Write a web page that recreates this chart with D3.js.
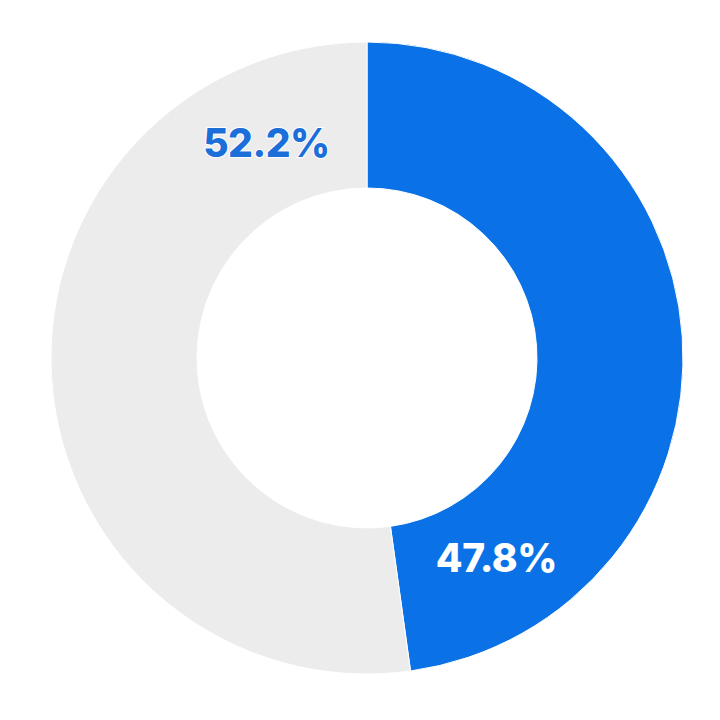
<!DOCTYPE html>
<html lang="en">
<head>
<meta charset="UTF-8">
<title>Donut chart</title>
<script src="https://d3js.org/d3.v7.min.js"></script>
<style>
    body { margin: 0; background: #ffffff; }
    .label {
        font-family: "Inter", "Open Sans", sans-serif;
        font-weight: 800;
        font-size: 39px;
    }
</style>
</head>
<body>
<div id="chart"></div>
<script>
    // chart data
    const categories = ["Blue", "Grey"];
    const values = [47.8, 52.2];
    const colors = ["#0a72e6", "#ececec"];
    const labelColors = ["#ffffff", "#1c6fd9"];

    const width = 720, height = 720;
    const cx = 367, cy = 358;
    const outerR = 316, innerR = 170;

    const svg = d3.select("#chart").append("svg")
        .attr("width", width)
        .attr("height", height);

    const g = svg.append("g").attr("transform", `translate(${cx},${cy})`);

    const pie = d3.pie().sort(null).value(d => d.value);
    const arcs = pie(categories.map((c, i) => ({ name: c, value: values[i], i })));

    const arc = d3.arc().innerRadius(innerR).outerRadius(outerR);

    g.selectAll("path.slice")
        .data(arcs)
        .enter()
        .append("path")
        .attr("class", "slice")
        .attr("d", arc)
        .attr("fill", d => colors[d.data.i])
        .attr("stroke", "#ffffff")
        .attr("stroke-width", 1);

    // labels sit near the end of each slice, a bit inside the middle of the ring
    const labelR = 238;
    const back = 25 * Math.PI / 180;
    g.selectAll("text.label")
        .data(arcs)
        .enter()
        .append("text")
        .attr("class", "label")
        .attr("text-anchor", "middle")
        .attr("dominant-baseline", "central")
        .attr("x", d => labelR * Math.sin(d.endAngle - back))
        .attr("y", d => -labelR * Math.cos(d.endAngle - back))
        .attr("fill", d => labelColors[d.data.i])
        .attr("stroke", d => d.data.i === 1 ? "#ffffff" : "none")
        .attr("stroke-width", 2)
        .attr("paint-order", "stroke")
        .style("letter-spacing", "-0.5px")
        .text(d => d.data.value.toFixed(1) + "%");
</script>
</body>
</html>
